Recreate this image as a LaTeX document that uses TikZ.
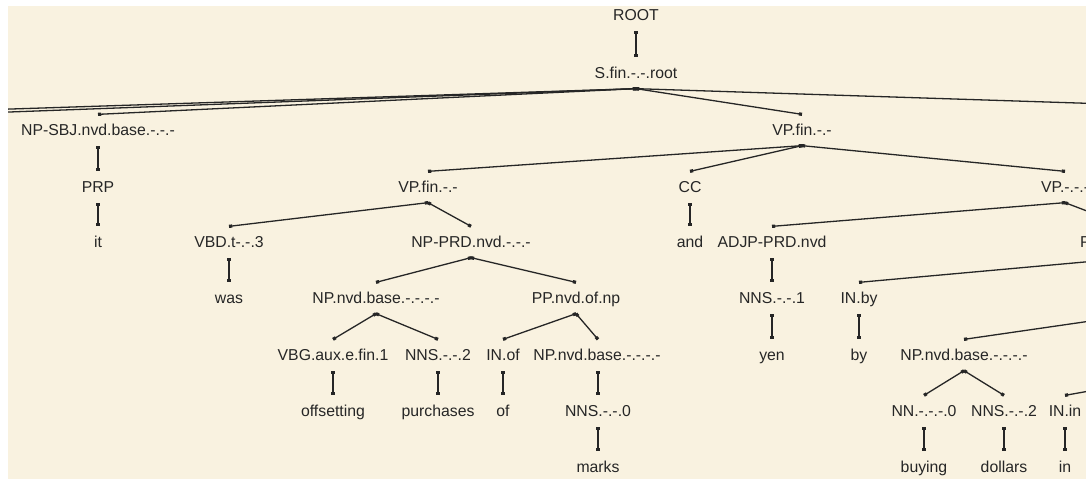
\documentclass[tikz,border=0pt]{standalone}
\usepackage{fontspec}
\setmainfont{Liberation Sans}
\usetikzlibrary{arrows.meta}
\definecolor{panel}{RGB}{249,242,224}
\definecolor{ink}{RGB}{38,38,38}

\begin{document}
\begin{tikzpicture}[x=1pt, y=-1pt,
    lbl/.style={inner xsep=0pt, inner ysep=9.8pt, text height=11.3pt, text depth=0pt,
                font=\fontsize{15.8}{18}\selectfont, text=ink},
    branch/.style={draw=ink, line width=1.3pt,
                   {Square[length=3.2pt,width=3.2pt]}-{Square[length=3.2pt,width=3.2pt]}}]
    \useasboundingbox (0,0) rectangle (1086,479);
    \fill[white] (0,0) rectangle (1086,479);
    \fill[panel] (8,6) rectangle (1086,479);
    \clip (8,6) rectangle (1086,479);
    % labels, one row per depth
    \node (root) at (636,15) [lbl] {ROOT};
    \node (s) at (636,73) [lbl] {S.fin.-.-.root};
    \node (npsbj) at (98,130) [lbl] {NP-SBJ.nvd.base.-.-.-};
    \node (vpfin) at (802,130) [lbl] {VP.fin.-.-};
    \node (prp) at (98,187) [lbl] {PRP};
    \node (vpfinl) at (428,187) [lbl] {VP.fin.-.-};
    \node (cc) at (690,187) [lbl] {CC};
    \node (vpr) at (1065,187) [lbl] {VP.-.-.-};
    \node (wit) at (98,242) [lbl] {it};
    \node (vbd) at (229,242) [lbl] {VBD.t-.-.3};
    \node (nprd) at (471,242) [lbl] {NP-PRD.nvd.-.-.-};
    \node (wand) at (690,242) [lbl] {and};
    \node (adjp) at (772,242) [lbl] {ADJP-PRD.nvd};
    \node (pplbl) at (1080,242) [lbl, anchor=west] {P};
    \node (wwas) at (229,298) [lbl] {was};
    \node (npa) at (376,298) [lbl] {NP.nvd.base.-.-.-.-};
    \node (ppof) at (576,298) [lbl] {PP.nvd.of.np};
    \node (nnsa) at (772,298) [lbl] {NNS.-.-.1};
    \node (inby) at (859,298) [lbl] {IN.by};
    \node (vbg) at (333,355) [lbl] {VBG.aux.e.fin.1};
    \node (nnsb) at (438,355) [lbl] {NNS.-.-.2};
    \node (inof) at (503,355) [lbl] {IN.of};
    \node (npb) at (597,355) [lbl] {NP.nvd.base.-.-.-.-};
    \node (wyen) at (772,355) [lbl] {yen};
    \node (wby) at (859,355) [lbl] {by};
    \node (npc) at (964,355) [lbl] {NP.nvd.base.-.-.-.-};
    \node (woffset) at (333,411) [lbl] {offsetting};
    \node (wpurch) at (438,411) [lbl] {purchases};
    \node (wof) at (503,411) [lbl] {of};
    \node (nnsc) at (598,411) [lbl] {NNS.-.-.0};
    \node (nn) at (924,411) [lbl] {NN.-.-.-.0};
    \node (nnsd) at (1004,411) [lbl] {NNS.-.-.2};
    \node (inin) at (1065,411) [lbl] {IN.in};
    \node (wmarks) at (598,467) [lbl] {marks};
    \node (wbuy) at (924,467) [lbl] {buying};
    \node (wdoll) at (1004,467) [lbl] {dollars};
    \node (win) at (1065,467) [lbl] {in};
    % ends that lie outside the window
    \coordinate (offla) at (-142,114);
    \coordinate (offlb) at (-44,114);
    \coordinate (offr) at (1416,114);
    \coordinate (pptop) at (1129,227);
    \coordinate (ppbot) at (1129,258);
    \coordinate (npoff) at (1146,313);
    \coordinate (ppin) at (1207,370);
    % branches
    \draw[branch] (root.south) -- (s.north);
    \draw[branch] (s.south) -- (offla);
    \draw[branch] (s.south) -- (offlb);
    \draw[branch] (s.south) -- (npsbj.north);
    \draw[branch] (s.south) -- (vpfin.north);
    \draw[branch] (s.south) -- (offr);
    \draw[branch] (npsbj.south) -- (prp.north);
    \draw[branch] (prp.south) -- (wit.north);
    \draw[branch] (vpfin.south) -- (vpfinl.north);
    \draw[branch] (vpfin.south) -- (cc.north);
    \draw[branch] (vpfin.south) -- (vpr.north);
    \draw[branch] (vpfinl.south) -- (vbd.north);
    \draw[branch] (vpfinl.south) -- (nprd.north);
    \draw[branch] (vbd.south) -- (wwas.north);
    \draw[branch] (nprd.south) -- (npa.north);
    \draw[branch] (nprd.south) -- (ppof.north);
    \draw[branch] (npa.south) -- (vbg.north);
    \draw[branch] (npa.south) -- (nnsb.north);
    \draw[branch] (vbg.south) -- (woffset.north);
    \draw[branch] (nnsb.south) -- (wpurch.north);
    \draw[branch] (ppof.south) -- (inof.north);
    \draw[branch] (ppof.south) -- ([xshift=1pt]npb.north);
    \draw[branch] (inof.south) -- (wof.north);
    \draw[branch] ([xshift=1pt]npb.south) -- (nnsc.north);
    \draw[branch] (nnsc.south) -- (wmarks.north);
    \draw[branch] (cc.south) -- (wand.north);
    \draw[branch] (vpr.south) -- (adjp.north);
    \draw[branch] (vpr.south) -- (pptop);
    \draw[branch] (adjp.south) -- (nnsa.north);
    \draw[branch] (nnsa.south) -- (wyen.north);
    \draw[branch] (ppbot) -- (inby.north);
    \draw[branch] (inby.south) -- (wby.north);
    \draw[branch] (npoff) -- (npc.north);
    \draw[branch] (npc.south) -- (nn.north);
    \draw[branch] (npc.south) -- (nnsd.north);
    \draw[branch] (nn.south) -- (wbuy.north);
    \draw[branch] (nnsd.south) -- (wdoll.north);
    \draw[branch] (ppin) -- (inin.north);
    \draw[branch] (inin.south) -- (win.north);
\end{tikzpicture}
\end{document}
